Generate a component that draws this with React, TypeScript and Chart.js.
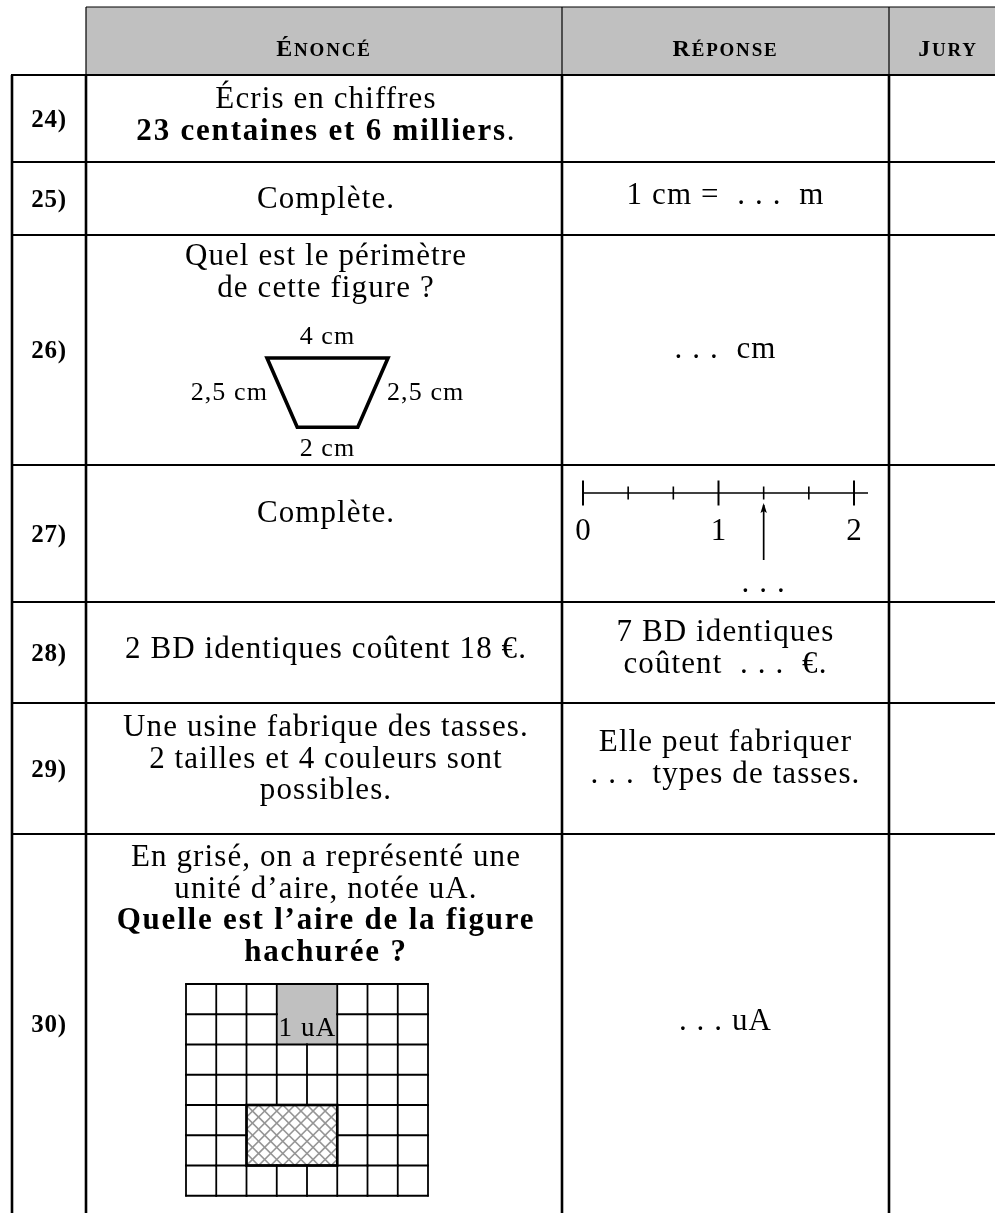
import React, { useEffect, useRef } from "react";
import { Chart, registerables } from "chart.js";
Chart.register(...registerables);

// ---------------- data ----------------
const columnHeaders = ["Énoncé", "Réponse", "Jury"];
const questionNumbers = ["24)", "25)", "26)", "27)", "28)", "29)", "30)"];
const statements: string[][] = [
  ["Écris en chiffres", "**23 centaines et 6 milliers**."],
  ["Complète."],
  ["Quel est le périmètre", "de cette figure ?"],
  ["Complète."],
  ["2 BD identiques coûtent 18 €."],
  ["Une usine fabrique des tasses.", "2 tailles et 4 couleurs sont", "possibles."],
  [
    "En grisé, on a représenté une",
    "unité d’aire, notée uA.",
    "**Quelle est l’aire de la figure**",
    "**hachurée ?**",
  ],
];
const answers: string[][] = [
  [],
  ["1 cm =  . . .  m"],
  [". . .  cm"],
  [],
  ["7 BD identiques", "coûtent  . . .  €."],
  ["Elle peut fabriquer", ". . .  types de tasses."],
  [". . . uA"],
];
// trapezoid (cm): top, right side, bottom, left side
const trapezoidLengths = [4, 2.5, 2, 2.5];
const trapezoidLabels = ["4 cm", "2,5 cm", "2 cm", "2,5 cm"];
// number line
const numberLineMajors = [0, 1, 2];
const numberLineLabels = ["0", "1", "2"];
const numberLineSubdivisions = 3;
const numberLineArrowValue = 4 / 3;
const numberLineAnswer = ". . .";
// area grid (cells): columns, rows
const areaGridSize = [8, 7];
const unitCell = [3, 0, 2, 2]; // col, row, w, h
const hatchedRect = [2, 4, 3, 2]; // col, row, w, h
const unitLabel = "1 uA";

// ---------------- layout (page pixels) ----------------
const W = 995;
const H = 1213;
const L = {
  colX: [12, 86, 562, 889, 1007],
  headerTop: 7,
  rowY: [75, 162, 235, 465, 602, 703, 834, 1213],
  stmtBase: [108, 208, 265, 522, 658, 736, 866],
  ansBase: [0, 204, 358, 0, 641, 751, 1030],
  lineGap: 31.5,
  cm: 30.25,
  trapTop: 358,
  trapCx: 327.5,
  nlX0: 583,
  nlUnit: 135.5,
  nlY: 493,
  gridX0: 186,
  gridY0: 984,
  headerBase: 56,
  stmtShift: 2,
};
const FONT = '"Liberation Serif", "Times New Roman", serif';
const BODY = 31;

function setFont(ctx: CanvasRenderingContext2D, size: number, bold: boolean, spacing: number) {
  ctx.font = `${bold ? "bold " : ""}${size}px ${FONT}`;
  (ctx as any).letterSpacing = `${spacing}px`;
}

function parseRich(text: string) {
  const segs: { t: string; b: boolean }[] = [];
  const parts = text.split("**");
  parts.forEach((p, i) => {
    if (p) segs.push({ t: p, b: i % 2 === 1 });
  });
  return segs;
}

function drawRich(
  ctx: CanvasRenderingContext2D,
  text: string,
  cx: number,
  y: number,
  size: number,
  align: "center" | "left" | "right" = "center"
) {
  const segs = parseRich(text);
  const widths = segs.map((s) => {
    setFont(ctx, size, s.b, s.b ? 1.8 : 1.1);
    return ctx.measureText(s.t).width;
  });
  const total = widths.reduce((a, b) => a + b, 0);
  let x = align === "center" ? cx - total / 2 : align === "left" ? cx : cx - total;
  ctx.textAlign = "left";
  ctx.textBaseline = "alphabetic";
  segs.forEach((s, i) => {
    setFont(ctx, size, s.b, s.b ? 1.8 : 1.1);
    ctx.fillText(s.t, x, y);
    x += widths[i];
  });
}

function drawSmallCaps(ctx: CanvasRenderingContext2D, text: string, cx: number, y: number) {
  const first = text[0].toUpperCase();
  const rest = text.slice(1).toUpperCase();
  const big = 24;
  const small = 19;
  const sp = 1.8;
  setFont(ctx, big, true, sp);
  const w1 = ctx.measureText(first).width;
  setFont(ctx, small, true, sp);
  const w2 = ctx.measureText(rest).width;
  let x = cx - (w1 + w2) / 2;
  ctx.textAlign = "left";
  ctx.textBaseline = "alphabetic";
  setFont(ctx, big, true, sp);
  ctx.fillText(first, x, y);
  x += w1;
  setFont(ctx, small, true, sp);
  ctx.fillText(rest, x, y);
}

const tablePlugin = {
  id: "examTable",
  beforeDraw(chart: any) {
    const ctx: CanvasRenderingContext2D = chart.ctx;
    ctx.save();
    ctx.fillStyle = "#ffffff";
    ctx.fillRect(0, 0, chart.width, chart.height);
    ctx.restore();
  },
  afterDraw(chart: any) {
    const ctx: CanvasRenderingContext2D = chart.ctx;
    const xs = chart.scales.x;
    const ys = chart.scales.y;
    const X = (v: number) => xs.getPixelForValue(v);
    const Y = (v: number) => ys.getPixelForValue(v);
    const line = (x1: number, y1: number, x2: number, y2: number, w: number, c = "#000") => {
      ctx.beginPath();
      ctx.strokeStyle = c;
      ctx.lineWidth = w;
      ctx.moveTo(X(x1), Y(y1));
      ctx.lineTo(X(x2), Y(y2));
      ctx.stroke();
    };
    ctx.save();
    ctx.fillStyle = "#000";
    ctx.lineCap = "butt";

    const cx = L.colX;
    const ry = L.rowY;
    const last = ry[ry.length - 1];

    // header
    ctx.fillStyle = "#c0c0c0";
    ctx.fillRect(X(cx[1]), Y(L.headerTop), X(W) - X(cx[1]), Y(ry[0]) - Y(L.headerTop));
    line(cx[1], L.headerTop, W, L.headerTop, 1.2);
    for (let i = 1; i <= 3; i++) line(cx[i], L.headerTop, cx[i], ry[0], 1.2);
    ctx.fillStyle = "#000";
    columnHeaders.forEach((h, i) => {
      drawSmallCaps(ctx, h, X((cx[i + 1] + cx[i + 2]) / 2), Y(L.headerBase));
    });

    // body rules
    ry.slice(0, -1).forEach((yy) => line(cx[0] - 1, yy, W, yy, 2.2));
    for (let i = 0; i <= 3; i++) line(cx[i], ry[0], cx[i], last, 2.6);

    // question numbers
    questionNumbers.forEach((q, i) => {
      const mid = (ry[i] + ry[i + 1]) / 2;
      setFont(ctx, 25, true, 0.8);
      ctx.textAlign = "center";
      ctx.textBaseline = "alphabetic";
      ctx.fillText(q, X((cx[0] + cx[1]) / 2), Y(mid + 8));
    });

    // statements & answers
    const sCx = (cx[1] + cx[2]) / 2 + L.stmtShift;
    const aCx = (cx[2] + cx[3]) / 2;
    statements.forEach((lines, i) => {
      lines.forEach((t, k) => drawRich(ctx, t, X(sCx), Y(L.stmtBase[i] + k * L.lineGap), BODY));
    });
    answers.forEach((lines, i) => {
      lines.forEach((t, k) => drawRich(ctx, t, X(aCx), Y(L.ansBase[i] + k * L.lineGap), BODY));
    });

    // trapezoid (row 26)
    {
      const [top, right, bottom] = trapezoidLengths;
      const halfTop = (top / 2) * L.cm;
      const halfBot = (bottom / 2) * L.cm;
      const dx = (top - bottom) / 2;
      const hgt = Math.sqrt(right * right - dx * dx) * L.cm;
      const t = L.trapTop;
      const b = t + hgt;
      const c = L.trapCx;
      ctx.beginPath();
      ctx.lineWidth = 3.6;
      ctx.strokeStyle = "#000";
      ctx.lineJoin = "miter";
      ctx.moveTo(X(c - halfTop), Y(t));
      ctx.lineTo(X(c + halfTop), Y(t));
      ctx.lineTo(X(c + halfBot), Y(b));
      ctx.lineTo(X(c - halfBot), Y(b));
      ctx.closePath();
      ctx.stroke();
      ctx.fillStyle = "#000";
      drawRich(ctx, trapezoidLabels[0], X(c), Y(t - 14), 26);
      drawRich(ctx, trapezoidLabels[2], X(c), Y(b + 29), 26);
      drawRich(ctx, trapezoidLabels[3], X(c - halfTop + 1), Y((t + b) / 2 + 7), 26, "right");
      drawRich(ctx, trapezoidLabels[1], X(c + halfTop - 1), Y((t + b) / 2 + 7), 26, "left");
    }

    // number line (row 27 answer)
    {
      const vx = (v: number) => L.nlX0 + v * L.nlUnit;
      const maxV = numberLineMajors[numberLineMajors.length - 1];
      const yL = L.nlY;
      line(vx(0), yL, vx(maxV) + 14, yL, 1.6);
      for (let k = 0; k <= maxV * numberLineSubdivisions; k++) {
        const v = k / numberLineSubdivisions;
        const major = k % numberLineSubdivisions === 0;
        const hh = major ? 12.5 : 6.5;
        line(vx(v), yL - hh, vx(v), yL + hh, major ? 2 : 1.6);
      }
      ctx.fillStyle = "#000";
      numberLineMajors.forEach((m, i) => {
        setFont(ctx, BODY, false, 0);
        ctx.textAlign = "center";
        ctx.fillText(numberLineLabels[i], X(vx(m)), Y(yL + 47));
      });
      const ax = vx(numberLineArrowValue);
      const tip = yL + 10;
      line(ax, yL + 67, ax, tip + 2, 1.7);
      ctx.beginPath();
      ctx.fillStyle = "#000";
      ctx.moveTo(X(ax), Y(tip));
      ctx.lineTo(X(ax - 3.2), Y(tip + 10));
      ctx.lineTo(X(ax), Y(tip + 8));
      ctx.lineTo(X(ax + 3.2), Y(tip + 10));
      ctx.closePath();
      ctx.fill();
      drawRich(ctx, numberLineAnswer, X(ax), Y(yL + 99), BODY);
    }

    // area grid (row 30)
    {
      const [nc, nr] = areaGridSize;
      const u = L.cm;
      const gx = (c: number) => L.gridX0 + c * u;
      const gy = (r: number) => L.gridY0 + r * u;
      // unit cell fill
      const [uc, ur, uw, uh] = unitCell;
      ctx.fillStyle = "#c0c0c0";
      ctx.fillRect(X(gx(uc)), Y(gy(ur)), X(gx(uc + uw)) - X(gx(uc)), Y(gy(ur + uh)) - Y(gy(ur)));
      // hatched
      const [hc, hr, hw, hh] = hatchedRect;
      const hx0 = X(gx(hc));
      const hy0 = Y(gy(hr));
      const hx1 = X(gx(hc + hw));
      const hy1 = Y(gy(hr + hh));
      ctx.save();
      ctx.beginPath();
      ctx.rect(hx0, hy0, hx1 - hx0, hy1 - hy0);
      ctx.clip();
      ctx.strokeStyle = "#959595";
      ctx.lineWidth = 1.6;
      const hgt = hy1 - hy0;
      const step = u / 2.5;
      for (let k = -hgt; k < hx1 - hx0 + hgt; k += step) {
        ctx.beginPath();
        ctx.moveTo(hx0 + k, hy0);
        ctx.lineTo(hx0 + k + hgt, hy1);
        ctx.stroke();
        ctx.beginPath();
        ctx.moveTo(hx0 + k, hy1);
        ctx.lineTo(hx0 + k + hgt, hy0);
        ctx.stroke();
      }
      ctx.restore();
      const inside = (c: number, r: number, rc: number[]) =>
        c >= rc[0] && c < rc[0] + rc[2] && r >= rc[1] && r < rc[1] + rc[3];
      // vertical segments
      for (let c = 0; c <= nc; c++) {
        for (let r = 0; r < nr; r++) {
          const skip =
            (c > unitCell[0] && c < unitCell[0] + unitCell[2] && inside(c, r, unitCell)) ||
            (c > hatchedRect[0] && c < hatchedRect[0] + hatchedRect[2] && inside(c, r, hatchedRect));
          if (!skip) line(gx(c), gy(r) - 0.8, gx(c), gy(r + 1) + 0.8, 1.8);
        }
      }
      for (let r = 0; r <= nr; r++) {
        for (let c = 0; c < nc; c++) {
          const skip =
            (r > unitCell[1] && r < unitCell[1] + unitCell[3] && inside(c, r, unitCell)) ||
            (r > hatchedRect[1] && r < hatchedRect[1] + hatchedRect[3] && inside(c, r, hatchedRect));
          if (!skip) line(gx(c) - 0.8, gy(r), gx(c + 1) + 0.8, gy(r), 1.8);
        }
      }
      ctx.strokeStyle = "#000";
      ctx.lineWidth = 2.6;
      ctx.strokeRect(hx0, hy0, hx1 - hx0, hy1 - hy0);
      ctx.fillStyle = "#000";
      drawRich(ctx, unitLabel, X(gx(uc + uw) - 1), Y(gy(ur + uh) - 9), 27, "right");
    }
    ctx.restore();
  },
};

export default function App() {
  const ref = useRef<HTMLCanvasElement | null>(null);
  useEffect(() => {
    document.body.style.margin = "0";
    const canvas = ref.current;
    if (!canvas) return;
    const chart = new Chart(canvas, {
      type: "scatter",
      data: { datasets: [] },
      options: {
        responsive: false,
        animation: false,
        devicePixelRatio: 1,
        events: [],
        layout: { padding: 0 },
        plugins: { legend: { display: false }, tooltip: { enabled: false } },
        scales: {
          x: { type: "linear", min: 0, max: W, display: false },
          y: { type: "linear", min: 0, max: H, reverse: true, display: false },
        },
      },
      plugins: [tablePlugin],
    } as any);
    return () => chart.destroy();
  }, []);
  return (
    <div style={{ position: "absolute", left: 0, top: 0, width: W, height: H }}>
      <canvas ref={ref} width={W} height={H} style={{ display: "block" }} />
    </div>
  );
}
